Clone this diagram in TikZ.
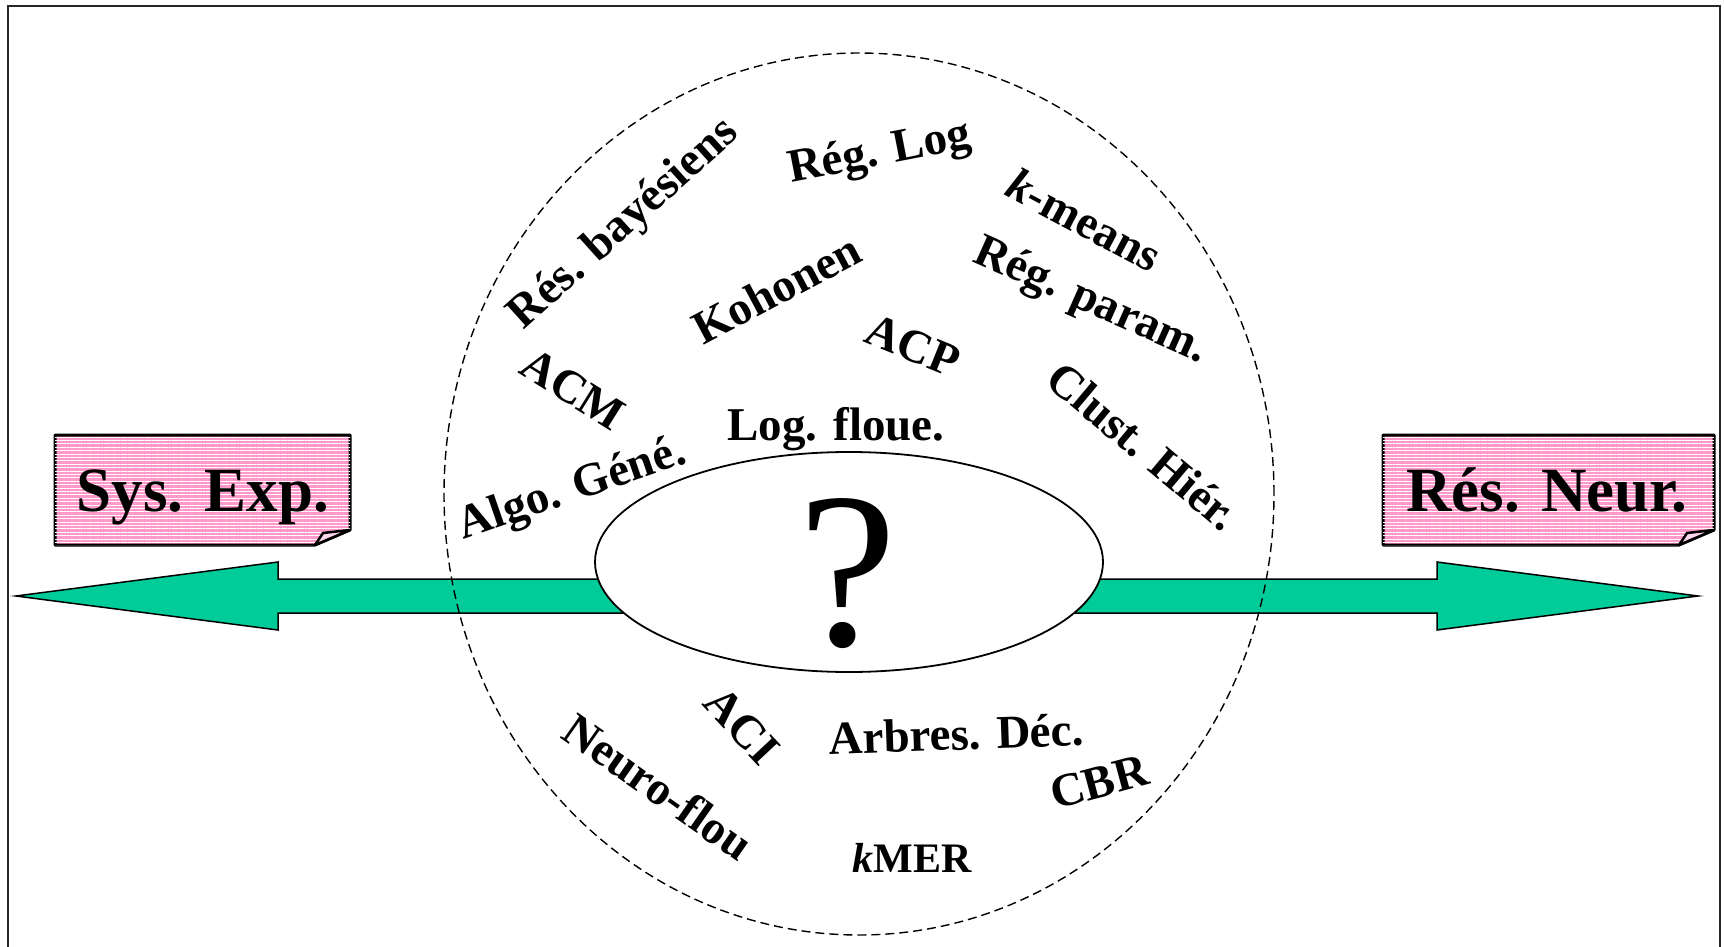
\documentclass[tikz,border=0pt]{standalone}
\usepackage{fontspec}
\setmainfont{Liberation Serif}
\usetikzlibrary{patterns.meta}
\definecolor{boxpink}{HTML}{FF99CC}
\definecolor{arrowgreen}{HTML}{00CC99}
\tikzset{
  lbl/.style={font=\fontsize{47}{56}\selectfont\bfseries, anchor=base, inner sep=0pt},
  boxlbl/.style={font=\fontsize{63}{74}\selectfont\bfseries, anchor=base, inner sep=0pt},
  notebox/.style={draw=black, line width=3pt, line join=round, fill=boxpink,
    postaction={pattern={Lines[angle=0,distance=3.4pt,line width=0.9pt]}, pattern color=white}},
  foldflap/.style={draw=black, line width=2.5pt, line join=round, fill=boxpink!40},
  bigarrow/.style={draw=black, line width=1.5pt, fill=arrowgreen, line join=miter},
  cloud/.style={draw=black, line width=1.4pt, dash pattern=on 9pt off 5pt},
  core/.style={draw=black, line width=1.8pt, fill=white},
  frameline/.style={draw=black!85, line width=2.5pt}
}
\begin{document}
\begin{tikzpicture}[x=1pt,y=-1pt]
\useasboundingbox (0,0) rectangle (1724,947);
% frame (open at the bottom)
\draw[frameline] (8,960) -- (8,6) -- (1720,6) -- (1720,960);
% double-headed green arrow
\draw[bigarrow] (16,596) -- (278,562) -- (278,579) -- (1437,579) -- (1437,562)
  -- (1698,596) -- (1437,630) -- (1437,613) -- (278,613) -- (278,630) -- cycle;
% dashed outer ellipse
\draw[cloud] (859,494) ellipse [x radius=415pt, y radius=441pt];
% central ellipse with question mark
\draw[core] (849,562) ellipse [x radius=254pt, y radius=110pt];
\node[font=\fontsize{222}{240}\selectfont, anchor=base, inner sep=0pt] (q) at (848,645) {?};
% left note box
\draw[notebox] (55,435) -- (350,435) -- (350,530) -- (315,545) -- (55,545) -- cycle;
\draw[foldflap] (350,530) -- (315,545) -- (323,533) -- cycle;
\node[boxlbl] (sysexp) at (203,511) {Sys. Exp.};
% right note box
\draw[notebox] (1383,435) -- (1714,435) -- (1714,530) -- (1679,545) -- (1383,545) -- cycle;
\draw[foldflap] (1714,530) -- (1679,545) -- (1687,533) -- cycle;
\node[boxlbl] (resneur) at (1547,511) {Rés. Neur.};
% method labels
\node[lbl, rotate=42] (bayes) at (632,233) {Rés. bayésiens};
\node[lbl, rotate=11] (reglog) at (882,165) {Rég. Log};
\node[lbl, rotate=-28] (kmeans) at (1077,234) {\textit{k}-means};
\node[lbl, rotate=28] (kohonen) at (784,303) {Kohonen};
\node[lbl, rotate=-24] (regparam) at (1086,312) {Rég. param.};
\node[lbl, rotate=-22] (acp) at (907,360) {ACP};
\node[lbl, rotate=-32] (acm) at (565,402) {ACM};
\node[lbl] (logfloue) at (836,440) {Log. floue.};
\node[lbl, rotate=-40] (clust) at (1133,458) {Clust. Hiér.};
\node[lbl, rotate=19] (algo) at (576,501) {Algo. Géné.};
\node[lbl, rotate=-47] (aci) at (731,736) {ACI};
\node[lbl, rotate=2] (arbres) at (957,750) {Arbres. Déc.};
\node[lbl, rotate=15] (cbr) at (1103,797) {CBR};
\node[lbl, rotate=-35] (neuro) at (649,800) {Neuro-flou};
\node[lbl, font=\fontsize{42}{50}\selectfont\bfseries] (kmer) at (912,872) {\textit{k}MER};
\end{tikzpicture}
\end{document}
